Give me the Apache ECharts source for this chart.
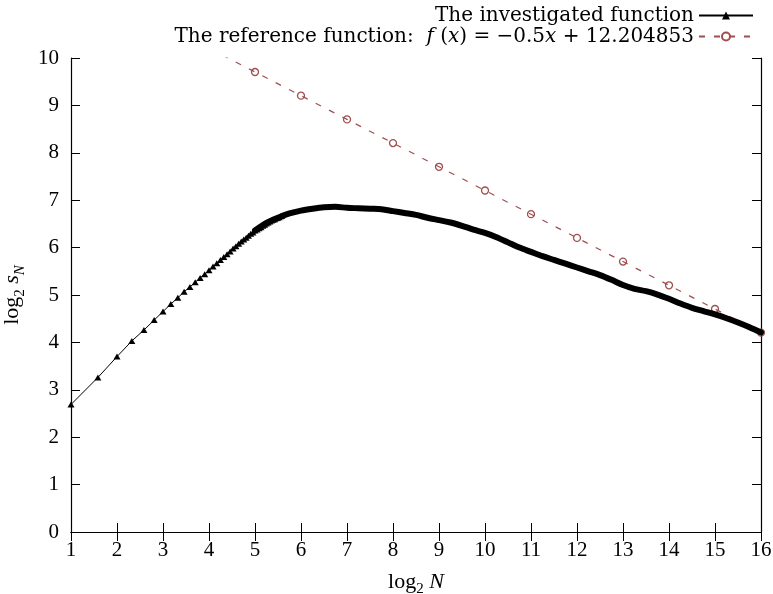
<!DOCTYPE html>
<html><head><meta charset="utf-8">
<script src="https://cdn.jsdelivr.net/npm/echarts@6/dist/echarts.min.js"></script>
<style>html,body{margin:0;padding:0;background:#fff}#c{width:773px;height:594px}</style>
</head><body><div id="c"></div>
<script>
// investigated function: individual samples N = 2..48 (x = log2 N)
const sparseN = [2,3,4,5,6,7,8,9,10,11,12,13,14,15,16,17,18,19,20,21,22,23,24,25,26,27,28,29,30,31,32,33,34,35,36,37,38,39,40,41,42,43,44,45,46,47,48];
const sparseY = [2.69,3.26,3.70,4.03,4.26,4.47,4.65,4.81,4.94,5.07,5.17,5.27,5.36,5.44,5.52,5.60,5.67,5.74,5.80,5.86,5.92,5.98,6.03,6.08,6.13,6.17,6.21,6.25,6.29,6.32,6.36,6.38,6.41,6.43,6.46,6.48,6.51,6.53,6.55,6.57,6.59,6.60,6.62,6.63,6.64,6.66,6.67];
// investigated function: dense region (markers merge into a thick band)
const denseX = [5.0,5.25,5.5,5.75,6,6.25,6.5,6.75,7,7.25,7.5,7.75,8,8.25,8.5,8.75,9,9.25,9.5,9.75,10,10.25,10.5,10.75,11,11.25,11.5,11.75,12,12.25,12.5,12.75,13,13.25,13.5,13.75,14,14.25,14.5,14.75,15,15.25,15.5,15.75,16];
const denseY = [6.36,6.52,6.63,6.72,6.78,6.82,6.85,6.86,6.84,6.83,6.82,6.81,6.77,6.73,6.69,6.63,6.58,6.53,6.46,6.38,6.31,6.22,6.11,6.00,5.91,5.82,5.74,5.66,5.58,5.50,5.42,5.32,5.21,5.13,5.08,5.01,4.92,4.82,4.73,4.66,4.59,4.51,4.42,4.32,4.21];
// reference function samples
const refX = [4,5,6,7,8,9,10,11,12,13,14,15,16];
const refY = [10.205,9.705,9.205,8.705,8.205,7.705,7.205,6.705,6.205,5.705,5.205,4.705,4.205];
const xTicks = [1,16,1];
const yTicks = [0,10,1];

const FONT = 'Liberation Serif';
const LFONT = 'DejaVu Serif';
const chart = echarts.init(document.getElementById('c'), null, {renderer:'canvas'});
const tick = {show:true, inside:true, length:9, lineStyle:{color:'#000', width:1}};
const axLine = {show:true, lineStyle:{color:'#000', width:1.2}};
const tickRich = {t:{fontFamily:FONT, fontSize:21, color:'#000', fontStyle:'normal', fontWeight:'normal'}};
const lbl = {color:'#000', fontFamily:FONT, fontSize:21, formatter:'{t|{value}}', rich:tickRich};
const nameRich = {
  r:{fontFamily:FONT, fontSize:22, color:'#000', lineHeight:24, verticalAlign:'middle'},
  s:{fontFamily:FONT, fontSize:15, color:'#000', lineHeight:24, verticalAlign:'bottom', padding:[0,0,-3,0]},
  i:{fontFamily:FONT, fontSize:22, fontStyle:'italic', color:'#000', lineHeight:24},
  si:{fontFamily:FONT, fontSize:15, fontStyle:'italic', color:'#000', lineHeight:24, verticalAlign:'bottom', padding:[0,0,-3,0]}
};
const legRich = {
  r:{fontFamily:LFONT, fontSize:20, color:'#000', align:'right'},
  i:{fontFamily:LFONT, fontSize:20, fontStyle:'italic', color:'#000', align:'right'}
};
const option = {
  backgroundColor:'#fff',
  animation:false,
  textStyle:{fontFamily:FONT},
  grid:{left:71, right:12, top:58, bottom:62, show:false, outerBoundsMode:'none', containLabel:false},
  legend:{
    orient:'vertical', right:14, top:0, align:'right', itemGap:0,
    itemWidth:54, itemHeight:10,
    data:['The investigated function','ref'],
    textStyle:{fontFamily:LFONT, fontSize:20, color:'#000', width:640, lineHeight:21, rich:legRich},
    formatter:function(n){
      if(n==='ref') return '{r|The reference function:  }{i|f}{r| (}{i|x}{r|) = −0.5}{i|x}{r| + 12.204853}';
      return '{r|The investigated function}';
    }
  },
  xAxis:[
    {type:'value', min:xTicks[0], max:xTicks[1], interval:xTicks[2], position:'bottom',
     axisLine:axLine, axisTick:tick, splitLine:{show:false},
     axisLabel:Object.assign({margin:8}, lbl),
     name:'{r|log}{s|2}{i| N}', nameLocation:'middle', nameGap:38,
     nameTextStyle:{rich:nameRich}},
    {type:'value', min:xTicks[0], max:xTicks[1], interval:xTicks[2], position:'top',
     axisLine:axLine, axisTick:tick, splitLine:{show:false}, axisLabel:{show:false}}
  ],
  yAxis:[
    {type:'value', min:yTicks[0], max:yTicks[1], interval:yTicks[2], position:'left',
     axisLine:axLine, axisTick:tick, splitLine:{show:false},
     axisLabel:Object.assign({margin:12}, lbl),
     name:'{r|log}{s|2}{i| s}{si|N}', nameLocation:'middle', nameGap:46, nameRotate:90,
     nameTextStyle:{rich:nameRich}},
    {type:'value', min:yTicks[0], max:yTicks[1], interval:yTicks[2], position:'right',
     axisLine:axLine, axisTick:tick, splitLine:{show:false}, axisLabel:{show:false}}
  ],
  series:[
    {name:'The investigated function', type:'line', xAxisIndex:0, yAxisIndex:0,
     data: sparseN.map((n,i)=>[Math.log2(n), sparseY[i]]),
     symbol:'triangle', symbolSize:[7,6], showSymbol:true,
     lineStyle:{color:'#000', width:1}, itemStyle:{color:'#000'}, z:3},
    {name:'dense', type:'line', xAxisIndex:0, yAxisIndex:0,
     data: denseX.map((x,i)=>[x, denseY[i]]),
     symbol:'none', smooth:0.3,
     lineStyle:{color:'#000', width:6, cap:'round', join:'round'}, z:3},
    {name:'ref', type:'line', xAxisIndex:0, yAxisIndex:0, clip:true,
     data: refX.map((x,i)=>[x, refY[i]]),
     symbol:'circle', symbolSize:7, showSymbol:true,
     lineStyle:{color:'#a04f4f', width:1.2, type:[6,9]},
     itemStyle:{color:'rgba(0,0,0,0)', borderColor:'#a04f4f', borderWidth:1.3}, z:2}
  ]
};
chart.setOption(option);
</script></body></html>
